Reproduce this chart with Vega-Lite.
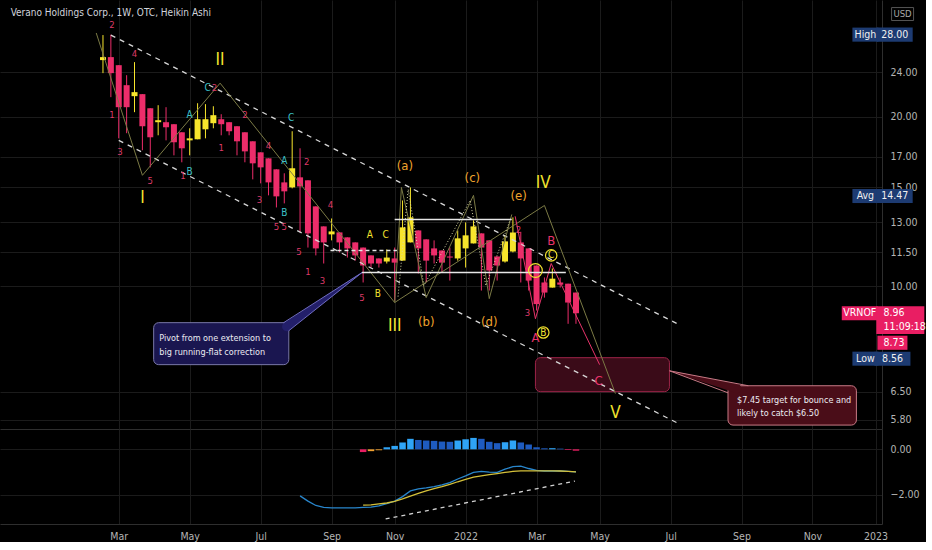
{
"$schema": "https://vega.github.io/schema/vega-lite/v6.json",
"background": "#000000",
"padding": 0,
"autosize": {"type": "pad"},
"spacing": 0,
"config": {
  "view": {"stroke": null},
  "font": "DejaVu Sans Condensed, Liberation Sans Narrow, Roboto, sans-serif",
  "text": {"font": "DejaVu Sans Condensed, Liberation Sans Narrow, Roboto, sans-serif"},
  "axis": {"labelFont": "DejaVu Sans Condensed, Liberation Sans Narrow, Roboto, sans-serif", "gridColor": "#1b1b1b", "domainColor": "#2e2e2e", "ticks": false, "title": null, "labelColor": "#b4b4b4", "labelFontSize": 10.5}
},
"datasets": {
  "candles": [
    {"t":"2021-02-15","o":25.23,"h":27.95,"l":23.92,"c":25.54},
    {"t":"2021-02-22","o":25.54,"h":28.0,"l":21.68,"c":23.92},
    {"t":"2021-03-01","o":24.71,"h":24.71,"l":18.32,"c":20.81},
    {"t":"2021-03-08","o":22.77,"h":23.72,"l":18.71,"c":20.81},
    {"t":"2021-03-15","o":21.77,"h":25.02,"l":20.39,"c":22.13},
    {"t":"2021-03-22","o":21.95,"h":21.95,"l":17.45,"c":19.25},
    {"t":"2021-03-29","o":20.72,"h":20.72,"l":16.27,"c":18.40},
    {"t":"2021-04-05","o":19.57,"h":20.98,"l":18.55,"c":19.73},
    {"t":"2021-04-12","o":19.57,"h":20.81,"l":18.17,"c":19.17},
    {"t":"2021-04-19","o":19.41,"h":19.41,"l":17.09,"c":18.03},
    {"t":"2021-04-26","o":18.78,"h":18.78,"l":16.61,"c":17.59},
    {"t":"2021-05-03","o":18.17,"h":19.09,"l":17.09,"c":18.32},
    {"t":"2021-05-10","o":18.25,"h":21.15,"l":18.25,"c":19.81},
    {"t":"2021-05-17","o":19.01,"h":21.07,"l":18.32,"c":19.81},
    {"t":"2021-05-24","o":19.49,"h":20.89,"l":19.09,"c":20.14},
    {"t":"2021-05-31","o":19.81,"h":20.22,"l":18.55,"c":19.41},
    {"t":"2021-06-07","o":19.57,"h":19.57,"l":18.55,"c":18.86},
    {"t":"2021-06-14","o":19.25,"h":19.25,"l":17.09,"c":18.10},
    {"t":"2021-06-21","o":18.78,"h":18.78,"l":16.61,"c":17.37},
    {"t":"2021-06-28","o":18.10,"h":18.10,"l":15.49,"c":16.54},
    {"t":"2021-07-05","o":17.30,"h":17.30,"l":15.24,"c":16.27},
    {"t":"2021-07-12","o":16.88,"h":16.88,"l":14.51,"c":15.30},
    {"t":"2021-07-19","o":16.14,"h":16.14,"l":13.81,"c":14.45},
    {"t":"2021-07-26","o":15.30,"h":15.88,"l":14.04,"c":14.75},
    {"t":"2021-08-02","o":14.99,"h":18.86,"l":14.93,"c":16.21},
    {"t":"2021-08-09","o":15.62,"h":17.59,"l":12.47,"c":15.05},
    {"t":"2021-08-16","o":15.43,"h":15.43,"l":11.72,"c":12.42},
    {"t":"2021-08-23","o":13.87,"h":13.87,"l":11.35,"c":11.68},
    {"t":"2021-08-30","o":12.78,"h":12.78,"l":10.98,"c":11.97},
    {"t":"2021-09-06","o":12.37,"h":13.20,"l":12.07,"c":12.52},
    {"t":"2021-09-13","o":12.47,"h":12.47,"l":11.49,"c":11.97},
    {"t":"2021-09-20","o":12.22,"h":12.22,"l":11.25,"c":11.68},
    {"t":"2021-09-27","o":11.97,"h":11.97,"l":11.11,"c":11.35},
    {"t":"2021-10-04","o":11.72,"h":11.72,"l":10.16,"c":10.89},
    {"t":"2021-10-11","o":11.35,"h":11.35,"l":10.80,"c":10.98},
    {"t":"2021-10-18","o":11.21,"h":11.21,"l":10.80,"c":10.98},
    {"t":"2021-10-25","o":11.07,"h":11.63,"l":10.98,"c":11.25},
    {"t":"2021-11-01","o":11.21,"h":11.72,"l":9.43,"c":11.02},
    {"t":"2021-11-08","o":11.11,"h":14.21,"l":11.11,"c":12.73},
    {"t":"2021-11-15","o":11.97,"h":14.99,"l":11.97,"c":13.26},
    {"t":"2021-11-22","o":12.57,"h":12.57,"l":10.54,"c":11.68},
    {"t":"2021-11-29","o":12.12,"h":12.12,"l":10.16,"c":11.11},
    {"t":"2021-12-06","o":11.68,"h":12.07,"l":10.98,"c":11.35},
    {"t":"2021-12-13","o":11.58,"h":11.58,"l":10.58,"c":11.02},
    {"t":"2021-12-20","o":11.30,"h":11.72,"l":10.24,"c":11.25},
    {"t":"2021-12-27","o":11.21,"h":12.57,"l":11.11,"c":12.17},
    {"t":"2022-01-03","o":11.68,"h":12.99,"l":10.80,"c":12.32},
    {"t":"2022-01-10","o":11.92,"h":13.10,"l":11.92,"c":12.78},
    {"t":"2022-01-17","o":12.42,"h":12.42,"l":9.83,"c":11.72},
    {"t":"2022-01-24","o":12.07,"h":12.07,"l":9.83,"c":10.67},
    {"t":"2022-01-31","o":11.30,"h":11.30,"l":10.24,"c":10.89},
    {"t":"2022-02-07","o":11.07,"h":12.32,"l":11.02,"c":12.02},
    {"t":"2022-02-14","o":11.53,"h":13.26,"l":11.49,"c":12.47},
    {"t":"2022-02-21","o":11.97,"h":12.50,"l":10.16,"c":11.21},
    {"t":"2022-02-28","o":11.68,"h":11.68,"l":9.83,"c":10.24},
    {"t":"2022-03-07","o":10.89,"h":10.89,"l":9.06,"c":9.30},
    {"t":"2022-03-14","o":10.16,"h":10.37,"l":9.55,"c":9.75},
    {"t":"2022-03-21","o":9.95,"h":10.76,"l":9.95,"c":10.32},
    {"t":"2022-03-28","o":10.16,"h":10.37,"l":9.95,"c":10.07},
    {"t":"2022-04-04","o":10.11,"h":10.11,"l":8.58,"c":9.36},
    {"t":"2022-04-11","o":9.75,"h":9.75,"l":8.58,"c":8.96}
  ],
  "chan": [
    {"g":"u","t":"2021-02-22","p":27.95},{"g":"u","t":"2022-07-10","p":8.58},
    {"g":"l","t":"2021-03-01","p":18.17},{"g":"l","t":"2022-07-10","p":5.72}
  ],
  "paths": [
    {"g":"main","o":0,"t":"2021-02-09","p":28.19},
    {"g":"main","o":1,"t":"2021-03-22","p":15.75},
    {"g":"main","o":2,"t":"2021-05-30","p":22.96},
    {"g":"main","o":3,"t":"2021-11-01","p":9.36},
    {"g":"main","o":4,"t":"2022-03-14","p":13.92},
    {"g":"main","o":5,"t":"2022-05-16","p":6.45},
    {"g":"abc","o":0,"t":"2021-11-01","p":9.36},
    {"g":"abc","o":1,"t":"2021-11-07","p":14.99},
    {"g":"abc","o":2,"t":"2021-11-29","p":9.55},
    {"g":"abc","o":3,"t":"2022-01-10","p":14.51},
    {"g":"abc","o":4,"t":"2022-01-24","p":9.51},
    {"g":"abc","o":5,"t":"2022-02-13","p":13.42},
    {"g":"dot","o":0,"t":"2021-11-04","p":9.59},
    {"g":"dot","o":1,"t":"2021-11-13","p":14.87},
    {"g":"dot","o":2,"t":"2021-11-27","p":10.03},
    {"g":"dot","o":3,"t":"2022-01-07","p":14.21},
    {"g":"dot","o":4,"t":"2022-01-21","p":10.03},
    {"g":"dot","o":5,"t":"2022-02-12","p":13.20},
    {"g":"pink","o":0,"t":"2022-02-16","p":13.32},
    {"g":"pink","o":1,"t":"2022-03-06","p":8.76},
    {"g":"pink","o":2,"t":"2022-03-20","p":10.98},
    {"g":"pink","o":3,"t":"2022-05-02","p":7.26}
  ],
  "hl": [
    {"g":"solid","t":"2021-11-01","t2":"2022-02-13","p":13.15},
    {"g":"solid","t":"2021-10-03","t2":"2022-04-02","p":10.58},
    {"g":"dash","t":"2021-09-05","t2":"2021-11-03","p":11.58}
  ],
  "boxes": [
    {"g":"blue","t":"2021-04-01","t2":"2021-07-30","p":8.62,"p2":7.26},
    {"g":"target","t":"2022-03-06","t2":"2022-07-03","p":7.47,"p2":6.50},
    {"g":"red","t":"2022-08-24","t2":"2022-12-16","p":6.66,"p2":5.67}
  ],
  "ptr": [
    {"g":"b1","t":"2021-07-25","p":8.61},{"g":"b1","t":"2021-10-03","p":10.58},
    {"g":"b2","t":"2021-07-30","p":8.34},{"g":"b2","t":"2021-10-03","p":10.58},
    {"g":"r1","t":"2022-07-03","p":7.08},{"g":"r1","t":"2022-08-24","p":6.47},
    {"g":"r2","t":"2022-07-03","p":7.08},{"g":"r2","t":"2022-09-11","p":6.66}
  ],
  "trails": [
    {"g":"b","e":"base","t":"2021-07-28","p":8.48},{"g":"b","e":"tip","t":"2021-10-03","p":10.58},
    {"g":"r","e":"tip","t":"2022-07-03","p":7.08},{"g":"r","e":"base","t":"2022-09-01","p":6.58}
  ],
  "notes": [
    {"t":"2021-04-06","p":8.11,"txt":"Pivot from one extension to"},
    {"t":"2021-04-06","p":7.66,"txt":"big running-flat correction"},
    {"t":"2022-09-01","p":6.29,"txt":"$7.45 target for bounce and"},
    {"t":"2022-09-01","p":5.96,"txt":"likely to catch $6.50"}
  ],
  "labels": [
    {"t":"2021-03-22","p":14.33,"txt":"I","k":"roman"},
    {"t":"2021-05-30","p":25.23,"txt":"II","k":"roman"},
    {"t":"2021-11-01","p":8.52,"txt":"III","k":"roman"},
    {"t":"2022-03-13","p":15.24,"txt":"IV","k":"roman"},
    {"t":"2022-05-16","p":5.96,"txt":"V","k":"roman"},
    {"t":"2021-11-10","p":16.34,"txt":"(a)","k":"paren"},
    {"t":"2021-11-29","p":8.66,"txt":"(b)","k":"paren"},
    {"t":"2022-01-09","p":15.56,"txt":"(c)","k":"paren"},
    {"t":"2022-01-24","p":8.66,"txt":"(d)","k":"paren"},
    {"t":"2022-02-19","p":14.45,"txt":"(e)","k":"paren"},
    {"t":"2021-02-23","p":29.12,"txt":"2","k":"pk"},
    {"t":"2021-03-15","p":25.86,"txt":"4","k":"pk"},
    {"t":"2021-02-23","p":20.14,"txt":"1","k":"pk"},
    {"t":"2021-03-02","p":17.30,"txt":"3","k":"pk"},
    {"t":"2021-03-29","p":15.37,"txt":"5","k":"pk"},
    {"t":"2021-04-27","p":15.68,"txt":"1","k":"pk"},
    {"t":"2021-05-25","p":22.49,"txt":"2","k":"pk"},
    {"t":"2021-05-31","p":17.59,"txt":"1","k":"pk"},
    {"t":"2021-06-21","p":20.14,"txt":"2","k":"pk"},
    {"t":"2021-07-12","p":17.73,"txt":"4","k":"pk"},
    {"t":"2021-08-15","p":16.61,"txt":"2","k":"pk"},
    {"t":"2021-07-04","p":14.21,"txt":"3","k":"pk"},
    {"t":"2021-07-19","p":12.75,"txt":"5","k":"pk"},
    {"t":"2021-07-26","p":12.75,"txt":"5","k":"pk"},
    {"t":"2021-09-05","p":13.92,"txt":"4","k":"pk"},
    {"t":"2021-08-08","p":11.49,"txt":"5","k":"pk"},
    {"t":"2021-08-16","p":10.62,"txt":"1","k":"pk"},
    {"t":"2021-08-29","p":10.24,"txt":"3","k":"pk"},
    {"t":"2021-10-03","p":9.55,"txt":"5","k":"pk"},
    {"t":"2022-02-19","p":12.57,"txt":"2","k":"pk"},
    {"t":"2022-02-27","p":8.98,"txt":"3","k":"pk"},
    {"t":"2022-03-20","p":12.02,"txt":"B","k":"pkL"},
    {"t":"2022-03-06","p":8.08,"txt":"A","k":"pkL"},
    {"t":"2022-05-01","p":6.80,"txt":"C","k":"pkL"},
    {"t":"2021-05-19","p":22.49,"txt":"C","k":"cy"},
    {"t":"2021-05-03","p":20.14,"txt":"A","k":"cy"},
    {"t":"2021-05-03","p":15.94,"txt":"B","k":"cy"},
    {"t":"2021-07-26","p":16.68,"txt":"A","k":"cy"},
    {"t":"2021-08-01","p":19.89,"txt":"C","k":"cy"},
    {"t":"2021-07-26","p":13.5,"txt":"B","k":"cy"},
    {"t":"2021-10-10","p":12.32,"txt":"A","k":"yl"},
    {"t":"2021-10-24","p":12.32,"txt":"C","k":"yl"},
    {"t":"2021-10-17","p":9.71,"txt":"B","k":"yl"},
    {"t":"2022-03-20","p":11.35,"txt":"C","k":"yl"},
    {"t":"2022-03-13","p":8.28,"txt":"B","k":"yl"}
  ],
  "circles": [
    {"t":"2022-03-20","p":11.35,"k":"s"},
    {"t":"2022-03-13","p":8.28,"k":"s"},
    {"t":"2022-03-06","p":10.67,"k":"b"}
  ],
  "title": [{"t":"2020-11-25","p":30.58,"txt":"Verano Holdings Corp., 1W, OTC, Heikin Ashi"}],
  "tags": [
    {"t":"2022-12-24","p":28.0,"txt":"High"},
    {"t":"2022-12-24","p":14.47,"txt":"Avg"},
    {"t":"2022-12-24","p":7.44,"txt":"Low"}
  ],
  "vals": [
    {"t":"2023-01-19","p":28.0,"txt":"28.00"},
    {"t":"2023-01-19","p":14.47,"txt":"14.47"},
    {"t":"2023-01-17","p":7.44,"txt":"8.56"}
  ],
  "sym": [{"t":"2022-12-19","p":8.96,"txt":"VRNOF"}],
  "pricebox": [{"t":"2023-01-24","p":8.71}],
  "lowbox": [{"t":"2023-01-17","p":7.94}],
  "ptxt": [
    {"t":"2023-01-09","p":8.96,"txt":"8.96"},
    {"t":"2023-01-09","p":8.48,"txt":"11:09:18"},
    {"t":"2023-01-09","p":7.94,"txt":"8.73"}
  ],
  "usd": [{"t":"2023-01-26","p":30.46,"txt":"USD"}],
  "hist": [
    {"t":"2021-10-04","v":-0.12},{"t":"2021-10-11","v":-0.08},{"t":"2021-10-18","v":-0.04},
    {"t":"2021-10-25","v":0.09},{"t":"2021-11-01","v":0.15},{"t":"2021-11-08","v":0.30},
    {"t":"2021-11-15","v":0.46},{"t":"2021-11-22","v":0.41},{"t":"2021-11-29","v":0.385},
    {"t":"2021-12-06","v":0.37},{"t":"2021-12-13","v":0.34},{"t":"2021-12-20","v":0.33},
    {"t":"2021-12-27","v":0.385},{"t":"2022-01-03","v":0.44},{"t":"2022-01-10","v":0.50},
    {"t":"2022-01-17","v":0.46},{"t":"2022-01-24","v":0.33},{"t":"2022-01-31","v":0.27},
    {"t":"2022-02-07","v":0.31},{"t":"2022-02-14","v":0.385},{"t":"2022-02-21","v":0.30},
    {"t":"2022-02-28","v":0.21},{"t":"2022-03-07","v":0.09},{"t":"2022-03-14","v":0.045},
    {"t":"2022-03-21","v":0.05},{"t":"2022-03-28","v":0.03},{"t":"2022-04-04","v":-0.03},
    {"t":"2022-04-11","v":-0.06}
  ],
  "macd": [
    {"t":"2021-08-09","m":-2.04,"s":null},{"t":"2021-08-16","m":-2.27,"s":null},
    {"t":"2021-08-23","m":-2.46,"s":null},{"t":"2021-08-30","m":-2.54,"s":null},
    {"t":"2021-09-06","m":-2.56,"s":null},{"t":"2021-09-13","m":-2.56,"s":null},
    {"t":"2021-09-20","m":-2.56,"s":null},{"t":"2021-09-27","m":-2.56,"s":null},
    {"t":"2021-10-04","m":-2.54,"s":-2.44},{"t":"2021-10-11","m":-2.53,"s":-2.43},
    {"t":"2021-10-18","m":-2.48,"s":-2.39},{"t":"2021-10-25","m":-2.38,"s":-2.35},
    {"t":"2021-11-01","m":-2.27,"s":-2.28},{"t":"2021-11-08","m":-2.07,"s":-2.17},
    {"t":"2021-11-15","m":-1.82,"s":-2.05},{"t":"2021-11-22","m":-1.73,"s":-1.93},
    {"t":"2021-11-29","m":-1.69,"s":-1.82},{"t":"2021-12-06","m":-1.63,"s":-1.72},
    {"t":"2021-12-13","m":-1.56,"s":-1.63},{"t":"2021-12-20","m":-1.46,"s":-1.53},
    {"t":"2021-12-27","m":-1.30,"s":-1.42},{"t":"2022-01-03","m":-1.16,"s":-1.32},
    {"t":"2022-01-10","m":-1.01,"s":-1.22},{"t":"2022-01-17","m":-0.97,"s":-1.16},
    {"t":"2022-01-24","m":-1.00,"s":-1.11},{"t":"2022-01-31","m":-1.01,"s":-1.06},
    {"t":"2022-02-07","m":-0.87,"s":-1.01},{"t":"2022-02-14","m":-0.76,"s":-0.97},
    {"t":"2022-02-21","m":-0.74,"s":-0.94},{"t":"2022-02-28","m":-0.84,"s":-0.94},
    {"t":"2022-03-07","m":-0.92,"s":-0.94},{"t":"2022-03-14","m":-0.95,"s":-0.94},
    {"t":"2022-03-21","m":-0.95,"s":-0.94},{"t":"2022-03-28","m":-0.95,"s":-0.95},
    {"t":"2022-04-04","m":-0.97,"s":-0.97},{"t":"2022-04-11","m":-0.99,"s":-0.99}
  ],
  "trend": [{"t":"2021-10-24","v":-3.05},{"t":"2022-04-10","v":-1.39}]
},
"vconcat": [
 {
  "width": 882,
  "height": 429,
  "layer": [
   {
    "data": {"name": "boxes"},
    "mark": {"type": "rect", "cornerRadius": 5, "strokeWidth": 1},
    "encoding": {
      "x": {"field": "t", "type": "temporal",
            "scale": {"domain": [{"year":2020,"month":11,"date":20},{"year":2023,"month":1,"date":3,"hours":7}]},
            "axis": {"orient": "bottom", "values": [{"year":2021,"month":3,"date":1},{"year":2021,"month":5,"date":3},{"year":2021,"month":7,"date":5},{"year":2021,"month":9,"date":6},{"year":2021,"month":11,"date":1},{"year":2022,"month":1,"date":3},{"year":2022,"month":3,"date":7},{"year":2022,"month":5,"date":2},{"year":2022,"month":7,"date":4},{"year":2022,"month":9,"date":5},{"year":2022,"month":11,"date":7},{"year":2023,"month":1,"date":2}],
                     "labels": false, "grid": true, "domain": true}},
      "x2": {"field": "t2"},
      "y": {"field": "p", "type": "quantitative",
            "scale": {"type": "log", "domain": [5.58, 32.26], "nice": false, "zero": false},
            "axis": {"orient": "right", "values": [5.8, 6.5, 10, 11.5, 13, 15, 17, 20, 24], "format": ".2f", "grid": true, "domain": true, "labelPadding": 8}},
      "y2": {"field": "p2"},
      "fill": {"field": "g", "type": "nominal", "scale": {"domain": ["blue","target","red"], "range": ["#1a1650","#3a0b18","#4a0d18"]}, "legend": null},
      "stroke": {"field": "g", "type": "nominal", "scale": {"domain": ["blue","target","red"], "range": ["#7a78a8","#9c2448","#c87a86"]}, "legend": null}
    }
   },
   {
    "data": {"name": "trails"},
    "mark": {"type": "trail"},
    "encoding": {
      "x": {"field": "t", "type": "temporal"},
      "y": {"field": "p", "type": "quantitative"},
      "detail": {"field": "g"},
      "size": {"field": "e", "type": "ordinal", "scale": {"domain": ["base","tip"], "range": [9, 0.5]}, "legend": null},
      "color": {"field": "g", "type": "nominal", "scale": {"domain": ["b","r"], "range": ["#231f6a","#4a0d18"]}, "legend": null}
    }
   },
   {
    "data": {"name": "ptr"},
    "mark": {"type": "line", "strokeWidth": 1},
    "encoding": {
      "x": {"field": "t", "type": "temporal"},
      "y": {"field": "p", "type": "quantitative"},
      "detail": {"field": "g"},
      "color": {"condition": {"test": "datum.g[0]=='b'", "value": "#6f6cc0"}, "value": "#c87a86"}
    }
   },
   {
    "data": {"name": "candles"},
    "mark": {"type": "rule", "strokeWidth": 1},
    "encoding": {
      "x": {"field": "t", "type": "temporal"},
      "y": {"field": "h", "type": "quantitative"},
      "y2": {"field": "l"},
      "color": {"condition": {"test": "datum.c >= datum.o", "value": "#f7e52c"}, "value": "#ec2d6a"}
    }
   },
   {
    "data": {"name": "candles"},
    "mark": {"type": "bar", "width": 6},
    "encoding": {
      "x": {"field": "t", "type": "temporal"},
      "y": {"field": "o", "type": "quantitative"},
      "y2": {"field": "c"},
      "color": {"condition": {"test": "datum.c >= datum.o", "value": "#f7e52c"}, "value": "#ec2d6a"}
    }
   },
   {
    "mark": {"type": "rule", "color": "#e91e63", "strokeDash": [1, 3], "strokeWidth": 1},
    "encoding": {"y": {"datum": 8.96}}
   },
   {
    "data": {"name": "chan"},
    "mark": {"type": "line", "color": "#d8d8d8", "strokeDash": [5, 5], "strokeWidth": 1.3},
    "encoding": {
      "x": {"field": "t", "type": "temporal"},
      "y": {"field": "p", "type": "quantitative"},
      "detail": {"field": "g"}
    }
   },
   {
    "data": {"name": "paths"},
    "transform": [{"filter": "datum.g=='main' || datum.g=='abc'"}],
    "mark": {"type": "line", "color": "#7b7a45", "strokeWidth": 1},
    "encoding": {
      "x": {"field": "t", "type": "temporal"},
      "y": {"field": "p", "type": "quantitative"},
      "detail": {"field": "g"},
      "order": {"field": "o"}
    }
   },
   {
    "data": {"name": "paths"},
    "transform": [{"filter": "datum.g=='dot'"}],
    "mark": {"type": "line", "color": "#d8d8a8", "strokeWidth": 1, "strokeDash": [1, 2]},
    "encoding": {
      "x": {"field": "t", "type": "temporal"},
      "y": {"field": "p", "type": "quantitative"},
      "order": {"field": "o"}
    }
   },
   {
    "data": {"name": "paths"},
    "transform": [{"filter": "datum.g=='pink'"}],
    "mark": {"type": "line", "color": "#e8336b", "strokeWidth": 1},
    "encoding": {
      "x": {"field": "t", "type": "temporal"},
      "y": {"field": "p", "type": "quantitative"},
      "order": {"field": "o"}
    }
   },
   {
    "data": {"name": "hl"},
    "mark": {"type": "rule", "color": "#e6e6e6", "strokeWidth": 1.5},
    "encoding": {
      "x": {"field": "t", "type": "temporal"},
      "x2": {"field": "t2"},
      "y": {"field": "p", "type": "quantitative"},
      "strokeDash": {"field": "g", "type": "nominal", "scale": {"domain": ["solid","dash"], "range": [[1,0],[4,3]]}, "legend": null}
    }
   },
   {
    "data": {"name": "circles"},
    "transform": [{"filter": "datum.k=='s'"}],
    "mark": {"type": "point", "shape": "circle", "filled": false, "color": "#f2e22e", "strokeWidth": 1.2, "opacity": 1, "size": 130},
    "encoding": {"x": {"field": "t", "type": "temporal"}, "y": {"field": "p", "type": "quantitative"}}
   },
   {
    "data": {"name": "circles"},
    "transform": [{"filter": "datum.k=='b'"}],
    "mark": {"type": "point", "shape": "circle", "filled": false, "color": "#f2e22e", "strokeWidth": 1.2, "opacity": 1, "size": 190},
    "encoding": {"x": {"field": "t", "type": "temporal"}, "y": {"field": "p", "type": "quantitative"}}
   },
   {
    "data": {"name": "labels"},
    "transform": [{"filter": "datum.k=='roman'"}],
    "mark": {"type": "text", "align": "center", "baseline": "middle", "color": "#f2e22e", "fontSize": 17},
    "encoding": {"x": {"field": "t", "type": "temporal"}, "y": {"field": "p", "type": "quantitative"}, "text": {"field": "txt"}}
   },
   {
    "data": {"name": "labels"},
    "transform": [{"filter": "datum.k=='paren'"}],
    "mark": {"type": "text", "align": "center", "baseline": "middle", "color": "#f0a32c", "fontSize": 13},
    "encoding": {"x": {"field": "t", "type": "temporal"}, "y": {"field": "p", "type": "quantitative"}, "text": {"field": "txt"}}
   },
   {
    "data": {"name": "labels"},
    "transform": [{"filter": "datum.k=='pk'"}],
    "mark": {"type": "text", "align": "center", "baseline": "middle", "color": "#dd3a68", "fontSize": 9.5},
    "encoding": {"x": {"field": "t", "type": "temporal"}, "y": {"field": "p", "type": "quantitative"}, "text": {"field": "txt"}}
   },
   {
    "data": {"name": "labels"},
    "transform": [{"filter": "datum.k=='pkL'"}],
    "mark": {"type": "text", "align": "center", "baseline": "middle", "color": "#e8336b", "fontSize": 13},
    "encoding": {"x": {"field": "t", "type": "temporal"}, "y": {"field": "p", "type": "quantitative"}, "text": {"field": "txt"}}
   },
   {
    "data": {"name": "labels"},
    "transform": [{"filter": "datum.k=='cy'"}],
    "mark": {"type": "text", "align": "center", "baseline": "middle", "color": "#3cc0c8", "fontSize": 10},
    "encoding": {"x": {"field": "t", "type": "temporal"}, "y": {"field": "p", "type": "quantitative"}, "text": {"field": "txt"}}
   },
   {
    "data": {"name": "labels"},
    "transform": [{"filter": "datum.k=='yl'"}],
    "mark": {"type": "text", "align": "center", "baseline": "middle", "color": "#f2e22e", "fontSize": 10},
    "encoding": {"x": {"field": "t", "type": "temporal"}, "y": {"field": "p", "type": "quantitative"}, "text": {"field": "txt"}}
   },
   {
    "data": {"name": "notes"},
    "mark": {"type": "text", "align": "left", "baseline": "middle", "color": "#ececf2", "fontSize": 9},
    "encoding": {
      "x": {"field": "t", "type": "temporal"},
      "y": {"field": "p", "type": "quantitative"},
      "text": {"field": "txt"}
    }
   },
   {
    "data": {"name": "title"},
    "mark": {"type": "text", "align": "left", "baseline": "middle", "color": "#d1d4dc", "fontSize": 10},
    "encoding": {
      "x": {"field": "t", "type": "temporal"},
      "y": {"field": "p", "type": "quantitative"},
      "text": {"field": "txt"}
    }
   },
   {
    "data": {"name": "tags"},
    "mark": {"type": "point", "shape": "M-1,-0.54H1V0.54H-1Z", "size": 676, "filled": true, "color": "#1d3b72", "opacity": 1},
    "encoding": {"x": {"field": "t", "type": "temporal"}, "y": {"field": "p", "type": "quantitative"}}
   },
   {
    "data": {"name": "vals"},
    "mark": {"type": "point", "shape": "M-1,-0.39H1V0.39H-1Z", "size": 1296, "filled": true, "color": "#1d3b72", "opacity": 1},
    "encoding": {"x": {"field": "t", "type": "temporal"}, "y": {"field": "p", "type": "quantitative"}}
   },
   {
    "data": {"name": "sym"},
    "mark": {"type": "point", "shape": "M-1,-0.39H1V0.39H-1Z", "size": 1296, "filled": true, "color": "#e91e63", "opacity": 1},
    "encoding": {"x": {"field": "t", "type": "temporal"}, "y": {"field": "p", "type": "quantitative"}}
   },
   {
    "data": {"name": "pricebox"},
    "mark": {"type": "point", "shape": "M-1,-0.58H1V0.58H-1Z", "size": 2304, "filled": true, "color": "#e91e63", "opacity": 1},
    "encoding": {"x": {"field": "t", "type": "temporal"}, "y": {"field": "p", "type": "quantitative"}}
   },
   {
    "data": {"name": "lowbox"},
    "mark": {"type": "point", "shape": "M-1,-0.47H1V0.47H-1Z", "size": 900, "filled": true, "color": "#e91e63", "opacity": 1},
    "encoding": {"x": {"field": "t", "type": "temporal"}, "y": {"field": "p", "type": "quantitative"}}
   },
   {
    "data": {"name": "usd"},
    "mark": {"type": "point", "shape": "M-1,-0.59H1V0.59H-1Z", "size": 484, "filled": false, "color": "#555555", "strokeWidth": 1, "opacity": 1},
    "encoding": {"x": {"field": "t", "type": "temporal"}, "y": {"field": "p", "type": "quantitative"}}
   },
   {
    "data": {"name": "usd"},
    "mark": {"type": "text", "align": "center", "baseline": "middle", "color": "#a8a8a8", "fontSize": 9.5},
    "encoding": {"x": {"field": "t", "type": "temporal"}, "y": {"field": "p", "type": "quantitative"}, "text": {"field": "txt"}}
   },
   {
    "data": {"name": "tags"},
    "mark": {"type": "text", "align": "center", "baseline": "middle", "color": "#f0f0f0", "fontSize": 10.5},
    "encoding": {"x": {"field": "t", "type": "temporal"}, "y": {"field": "p", "type": "quantitative"}, "text": {"field": "txt"}}
   },
   {
    "data": {"name": "vals"},
    "mark": {"type": "text", "align": "center", "baseline": "middle", "color": "#f0f0f0", "fontSize": 10.5},
    "encoding": {"x": {"field": "t", "type": "temporal"}, "y": {"field": "p", "type": "quantitative"}, "text": {"field": "txt"}}
   },
   {
    "data": {"name": "sym"},
    "mark": {"type": "text", "align": "center", "baseline": "middle", "color": "#ffffff", "fontSize": 10.5},
    "encoding": {"x": {"field": "t", "type": "temporal"}, "y": {"field": "p", "type": "quantitative"}, "text": {"field": "txt"}}
   },
   {
    "data": {"name": "ptxt"},
    "mark": {"type": "text", "align": "left", "baseline": "middle", "color": "#ffffff", "fontSize": 10.5},
    "encoding": {"x": {"field": "t", "type": "temporal"}, "y": {"field": "p", "type": "quantitative"}, "text": {"field": "txt"}}
   }
  ]
 },
 {
  "width": 882,
  "height": 95,
  "layer": [
   {
    "data": {"name": "hist"},
    "transform": [{"window": [{"op": "lag", "field": "v", "as": "prev"}], "sort": [{"field": "t"}]}],
    "mark": {"type": "bar", "width": 6.5},
    "encoding": {
      "x": {"field": "t", "type": "temporal",
            "scale": {"domain": [{"year":2020,"month":11,"date":20},{"year":2023,"month":1,"date":3,"hours":7}]},
            "axis": {"orient": "bottom", "values": [{"year":2021,"month":3,"date":1},{"year":2021,"month":5,"date":3},{"year":2021,"month":7,"date":5},{"year":2021,"month":9,"date":6},{"year":2021,"month":11,"date":1},{"year":2022,"month":1,"date":3},{"year":2022,"month":3,"date":7},{"year":2022,"month":5,"date":2},{"year":2022,"month":7,"date":4},{"year":2022,"month":9,"date":5},{"year":2022,"month":11,"date":7},{"year":2023,"month":1,"date":2}],
                     "labelExpr": "month(datum.value) == 0 ? timeFormat(datum.value, '%Y') : timeFormat(datum.value, '%b')",
                     "grid": true, "domain": true, "labelPadding": 7, "labelFlush": false, "labelOverlap": false}},
      "y": {"field": "v", "type": "quantitative",
            "scale": {"domain": [-3.27, 0.89], "nice": false, "zero": false},
            "axis": {"orient": "right", "values": [0, -2], "format": ".2f", "grid": true, "domain": true, "labelPadding": 8}},
      "y2": {"datum": 0},
      "color": {"condition": [
        {"test": "datum.v >= 0 && datum.v >= datum.prev", "value": "#2fa4f6"},
        {"test": "datum.v >= 0", "value": "#1e5bbf"},
        {"test": "datum.v >= datum.prev", "value": "#f0a030"}
      ], "value": "#e91e63"}
    }
   },
   {
    "data": {"name": "macd"},
    "mark": {"type": "line", "color": "#2986cc", "strokeWidth": 1.3},
    "encoding": {"x": {"field": "t", "type": "temporal"}, "y": {"field": "m", "type": "quantitative"}}
   },
   {
    "data": {"name": "macd"},
    "transform": [{"filter": "isValid(datum.s)"}],
    "mark": {"type": "line", "color": "#d4c03a", "strokeWidth": 1.3},
    "encoding": {"x": {"field": "t", "type": "temporal"}, "y": {"field": "s", "type": "quantitative"}}
   },
   {
    "data": {"name": "trend"},
    "mark": {"type": "line", "color": "#d0d0d0", "strokeDash": [4, 4], "strokeWidth": 1.3},
    "encoding": {"x": {"field": "t", "type": "temporal"}, "y": {"field": "v", "type": "quantitative"}}
   }
  ]
 }
]
}
